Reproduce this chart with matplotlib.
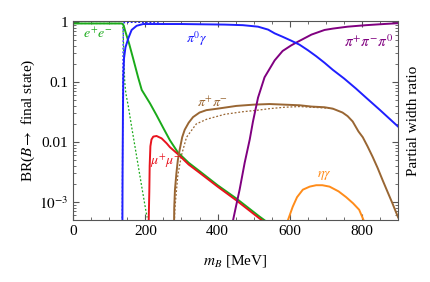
import numpy as np
import matplotlib
matplotlib.use('Agg')
import matplotlib.pyplot as plt
from matplotlib.ticker import FixedLocator, MultipleLocator, NullFormatter, LogLocator

# values (m_B in MeV, branching ratio)
ee_m = [0, 120, 134, 137, 140, 144, 148, 155, 166, 180, 190, 213, 231, 250, 268, 290, 320, 349, 400, 452, 516, 535]
ee_br = [0.95, 0.95, 0.95, 0.94, 0.88, 0.72, 0.6, 0.44, 0.25, 0.12, 0.074, 0.044, 0.028, 0.017, 0.0107, 0.0067, 0.0045, 0.0033, 0.0019, 0.00114, 0.00057, 0.00047]

ee_dot_m = [0, 134, 137, 139, 141, 143, 146, 153, 162, 176, 190, 201, 205]
ee_dot_br = [0.95, 0.95, 0.93, 0.6, 0.2, 0.1, 0.065, 0.039, 0.018, 0.0057, 0.0018, 0.00074, 0.00055]

pig_m = [136.5, 137, 138, 139, 141, 145, 153, 162, 176, 194, 300, 420, 470, 512, 540, 558, 580, 604, 627, 650, 673, 696, 719, 750, 783, 811, 850, 900]
pig_br = [0.0004, 0.003, 0.03, 0.12, 0.25, 0.38, 0.54, 0.74, 0.87, 0.93, 0.93, 0.91, 0.89, 0.84, 0.75, 0.65, 0.57, 0.49, 0.42, 0.34, 0.27, 0.21, 0.16, 0.115, 0.078, 0.055, 0.034, 0.018]

pig_dot_m = [136, 137, 138, 139, 140, 145, 200, 240]
pig_dot_br = [0.0004, 0.01, 0.2, 0.8, 0.97, 0.99, 0.99, 0.97]

mumu_m = [209, 211, 212, 214, 217, 222, 231, 245, 259, 268, 291, 320, 349, 400, 452, 516, 530]
mumu_br = [0.0004, 0.0015, 0.004, 0.0085, 0.011, 0.0123, 0.0126, 0.0115, 0.0095, 0.0082, 0.0062, 0.0042, 0.0031, 0.0018, 0.00106, 0.00053, 0.00046]

pipi_m = [279.2, 280, 282, 286, 290, 295, 302, 309, 320, 332, 350, 369, 400, 452, 500, 544, 585, 627, 660, 696, 719, 746, 760, 774, 790, 802, 815, 829, 843, 857, 870, 884, 895, 900]
pipi_br = [0.0003, 0.0008, 0.0016, 0.003, 0.005, 0.0074, 0.012, 0.016, 0.021, 0.026, 0.031, 0.034, 0.036, 0.04, 0.042, 0.043, 0.042, 0.041, 0.039, 0.038, 0.036, 0.031, 0.027, 0.022, 0.015, 0.012, 0.0085, 0.0057, 0.0037, 0.0023, 0.0015, 0.00095, 0.00065, 0.00055]

pipi_dot_m = [279.2, 282, 290, 300, 314, 341, 370, 420, 470, 512, 544, 585, 627, 660, 696, 719]
pipi_dot_br = [0.0003, 0.0008, 0.0028, 0.006, 0.012, 0.02, 0.024, 0.029, 0.032, 0.034, 0.036, 0.038, 0.039, 0.038, 0.037, 0.036]

pi3_m = [440, 443, 452, 461, 475, 489, 498, 512, 530, 558, 580, 604, 622, 660, 696, 719, 760, 811, 860, 900]
pi3_br = [0.0003, 0.0005, 0.0009, 0.0016, 0.0045, 0.011, 0.022, 0.055, 0.12, 0.23, 0.33, 0.41, 0.47, 0.62, 0.74, 0.78, 0.84, 0.89, 0.93, 0.96]

etag_m = [590, 595, 608, 620, 636, 655, 673, 690, 710, 735, 756, 775, 792, 804, 810]
etag_br = [0.0003, 0.0005, 0.00083, 0.0012, 0.0016, 0.0018, 0.0019, 0.0019, 0.0018, 0.0015, 0.0012, 0.00095, 0.00074, 0.0005, 0.00035]

C_GREEN = '#1aaa1a'
C_BLUE = '#1f1fff'
C_RED = '#e8141e'
C_BROWN = '#996633'
C_PURPLE = '#800080'
C_ORANGE = '#ff8c1a'

plt.rcParams['font.family'] = 'serif'
plt.rcParams['font.serif'] = ['Liberation Serif', 'DejaVu Serif']
plt.rcParams['mathtext.fontset'] = 'stix'

fig = plt.figure(figsize=(4.3, 2.82), dpi=100)
ax = fig.add_axes([0.170, 0.220, 0.756, 0.706])

lw = 1.4
dots = (0, (1.5, 1.5))
ax.plot(ee_dot_m, ee_dot_br, color=C_GREEN, lw=0.9, ls=dots)
ax.plot(pig_dot_m, pig_dot_br, color=C_BLUE, lw=0.9, ls=dots)
ax.plot(pipi_dot_m, pipi_dot_br, color=C_BROWN, lw=0.9, ls=dots)
ax.plot(ee_m, ee_br, color=C_GREEN, lw=lw)
ax.plot(mumu_m, mumu_br, color=C_RED, lw=lw)
ax.plot(pipi_m, pipi_br, color=C_BROWN, lw=lw)
ax.plot(pi3_m, pi3_br, color=C_PURPLE, lw=lw)
ax.plot(etag_m, etag_br, color=C_ORANGE, lw=lw)
ax.plot(pig_m, pig_br, color=C_BLUE, lw=lw)

ax.set_yscale('log')
ax.set_xlim(0, 900)
ax.set_ylim(5e-4, 1.05)

ax.xaxis.set_major_locator(MultipleLocator(200))
ax.xaxis.set_minor_locator(MultipleLocator(50))
ax.yaxis.set_major_locator(FixedLocator([1e-3, 1e-2, 1e-1, 1]))
ax.yaxis.set_minor_locator(LogLocator(base=10, subs=np.arange(2, 10)))
ax.yaxis.set_minor_formatter(NullFormatter())
ax.set_yticklabels(['$10^{-3}$', '0.01', '0.1', '1'])

ax.tick_params(which='both', direction='in', top=True, right=True, colors='#555555',
               labelcolor='black', labelsize=11)
ax.tick_params(which='major', length=4)
ax.tick_params(which='minor', length=2)
for s in ax.spines.values():
    s.set_color('#555555')

ax.set_xlabel('$m_B$ [MeV]', fontsize=11, labelpad=11)
ax.set_ylabel(r'BR($B\rightarrow$ final state)', fontsize=11, labelpad=1)
fig.text(0.962, 0.57, 'Partial width ratio', rotation=90, ha='center', va='center', fontsize=11)

ax.text(68, 0.64, '$e^{+}e^{-}$', color=C_GREEN, fontsize=10, ha='center', va='center')
ax.text(342, 0.54, r'$\pi^{0}\gamma$', color=C_BLUE, fontsize=10, ha='center', va='center')
ax.text(818, 0.48, r'$\pi^{+}\pi^{-}\pi^{0}$', color=C_PURPLE, fontsize=11, ha='center', va='center')
ax.text(385, 0.045, r'$\pi^{+}\pi^{-}$', color=C_BROWN, fontsize=10, ha='center', va='center')
ax.text(256, 0.0047, r'$\mu^{+}\mu^{-}$', color=C_RED, fontsize=10, ha='center', va='center')
ax.text(696, 0.0028, r'$\eta\gamma$', color=C_ORANGE, fontsize=10, ha='center', va='center')

fig.savefig('out.png', dpi=100)
